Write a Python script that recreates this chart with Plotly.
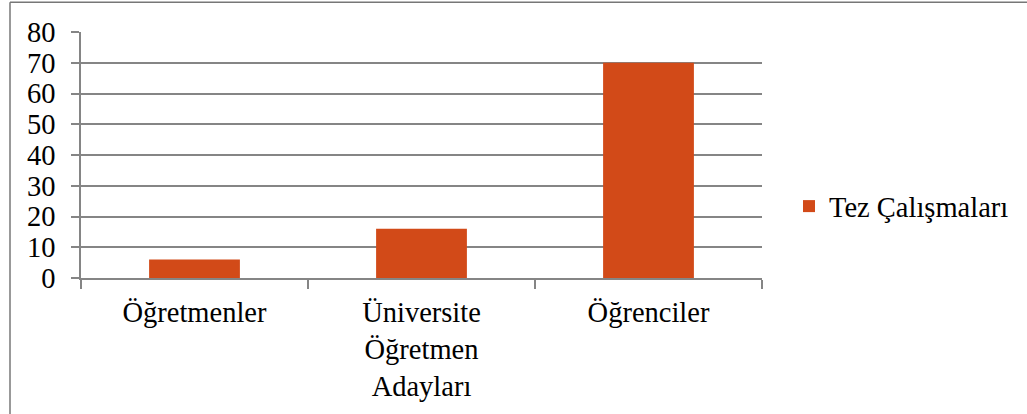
import plotly.graph_objects as go

categories = ["Öğretmenler", "Üniversite<br>Öğretmen<br>Adayları", "Öğrenciler"]
values = [6, 16, 70]
series_name = "Tez Çalışmaları"
y_ticks = [0, 10, 20, 30, 40, 50, 60, 70, 80]

W, H = 1027, 414
L, R, T, B = 81, 762, 32, 280
pw, ph = R - L, B - T

def px(x):
    return (x - L) / pw

def py(y):
    return (B - y) / ph

FONT = "Times New Roman, Liberation Serif, serif"
GRID = "#858585"
FS = 28.5

fig = go.Figure()
fig.add_trace(go.Bar(
    x=categories, y=values, name=series_name,
    marker=dict(color="#D24A18", line=dict(width=0)),
    width=0.4, showlegend=True,
))

fig.update_layout(
    width=W, height=H,
    margin=dict(l=L, r=W - R, t=T, b=H - B, pad=0),
    paper_bgcolor="white", plot_bgcolor="white",
    font=dict(family=FONT, size=FS, color="black"),
    showlegend=True,
    legend=dict(x=px(789), y=py(208), xanchor="left", yanchor="middle",
                font=dict(family=FONT, size=FS, color="black"),
                bgcolor="rgba(0,0,0,0)", itemwidth=30),
    bargap=0.6,
)

fig.update_yaxes(
    range=[0, 80], tickvals=y_ticks, ticktext=[str(v) for v in y_ticks],
    showgrid=True, gridcolor=GRID, gridwidth=1.6,
    showline=True, linecolor=GRID, linewidth=1.6,
    ticks="outside", ticklen=8, tickcolor=GRID, tickwidth=1.6,
    ticklabelstandoff=10, zeroline=False,
    tickfont=dict(family=FONT, size=FS, color="black"),
)
fig.update_xaxes(
    showline=True, linecolor=GRID, linewidth=1.6,
    ticks="outside", tickson="boundaries", ticklen=9, tickcolor=GRID, tickwidth=1.6,
    showgrid=False,
    tickfont=dict(family=FONT, size=FS, color="black"),
    ticklabelstandoff=8,
)

# outer frame (left and top edges visible)
fig.add_shape(type="line", xref="paper", yref="paper",
              x0=px(10), x1=px(10), y0=py(2), y1=py(420),
              line=dict(color="#777777", width=1.5))
fig.add_shape(type="line", xref="paper", yref="paper",
              x0=px(10), x1=px(1030), y0=py(2), y1=py(2),
              line=dict(color="#777777", width=1.5))

fig.write_html("out.html", config={"displayModeBar": False},
               post_script="document.body.style.margin='0';")
